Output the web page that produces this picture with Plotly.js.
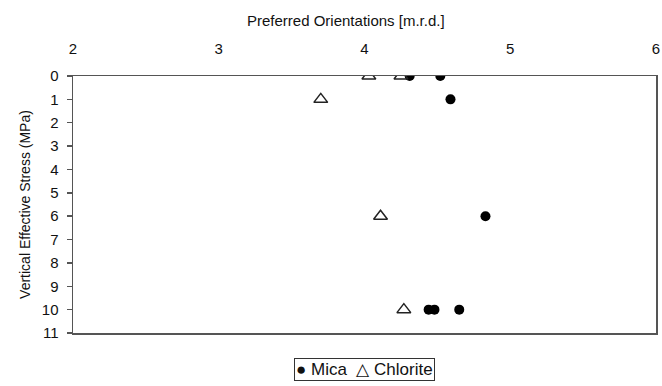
<!DOCTYPE html>
<html>
<head>
<meta charset="utf-8">
<script src="https://cdn.plot.ly/plotly-3.0.1.min.js"></script>
<style>html,body{margin:0;padding:0;background:#fff;}#chart{width:662px;height:386px;}</style>
</head>
<body>
<div id="chart"></div>
<script>
const micaX = [4.31, 4.52, 4.59, 4.83, 4.44, 4.48, 4.65];
const micaY = [0, 0, 1, 6, 10, 10, 10];
const chloriteX = [4.03, 4.25, 3.70, 4.11, 4.27];
const chloriteY = [0, 0, 1, 6, 10];
const xTicks = [2, 3, 4, 5, 6];
const yTicks = [0, 1, 2, 3, 4, 5, 6, 7, 8, 9, 10, 11];
const seriesNames = ['Mica', 'Chlorite'];

const traces = [
  {x: micaX, y: micaY, name: seriesNames[0], type: 'scatter', mode: 'markers',
   marker: {symbol: 'circle', size: 10, color: '#000'}},
  {x: chloriteX, y: chloriteY, name: seriesNames[1], type: 'scatter', mode: 'markers',
   marker: {symbol: 'triangle-up-open', size: 12, color: '#222', line: {width: 1.5, color: '#222'}}}
];

const layout = {
  width: 662, height: 386,
  margin: {l: 73, r: 6, t: 76, b: 53},
  paper_bgcolor: '#fff', plot_bgcolor: '#fff',
  font: {family: 'Liberation Sans, Arial, sans-serif', size: 15, color: '#111'},
  showlegend: false,
  xaxis: {
    side: 'top', range: [2, 6], tickvals: xTicks, ticktext: xTicks.map(String),
    showgrid: false, zeroline: false, showline: true, linecolor: '#555', linewidth: 1.5,
    mirror: true, ticks: '', ticklabelstandoff: 15, tickfont: {size: 15}
  },
  yaxis: {
    range: [11, 0], tickvals: yTicks, ticktext: yTicks.map(String),
    showgrid: false, zeroline: false, showline: true, linecolor: '#555', linewidth: 1.5,
    mirror: true, ticks: 'outside', ticklen: 5, tickcolor: '#555', tickwidth: 1.5,
    ticklabelstandoff: 5, tickfont: {size: 15},
    title: {text: 'Vertical Effective Stress (MPa)', font: {size: 14}, standoff: 8}
  },
  annotations: [
    {xref: 'paper', yref: 'paper', x: 0.468, y: 1, yshift: 56, xanchor: 'center', yanchor: 'middle',
     text: 'Preferred Orientations [m.r.d.]', showarrow: false, font: {size: 15, color: '#111'}},
    {xref: 'paper', yref: 'paper', x: 0.5, y: 0, yshift: -36, xanchor: 'center', yanchor: 'middle',
     text: '\u25CF ' + seriesNames[0] + '  \u25B3 ' + seriesNames[1], showarrow: false,
     font: {size: 17, color: '#111'}, bordercolor: '#333', borderwidth: 1, borderpad: 1, bgcolor: '#fff'}
  ]
};

Plotly.newPlot('chart', traces, layout, {displayModeBar: false, staticPlot: true});
</script>
</body>
</html>
